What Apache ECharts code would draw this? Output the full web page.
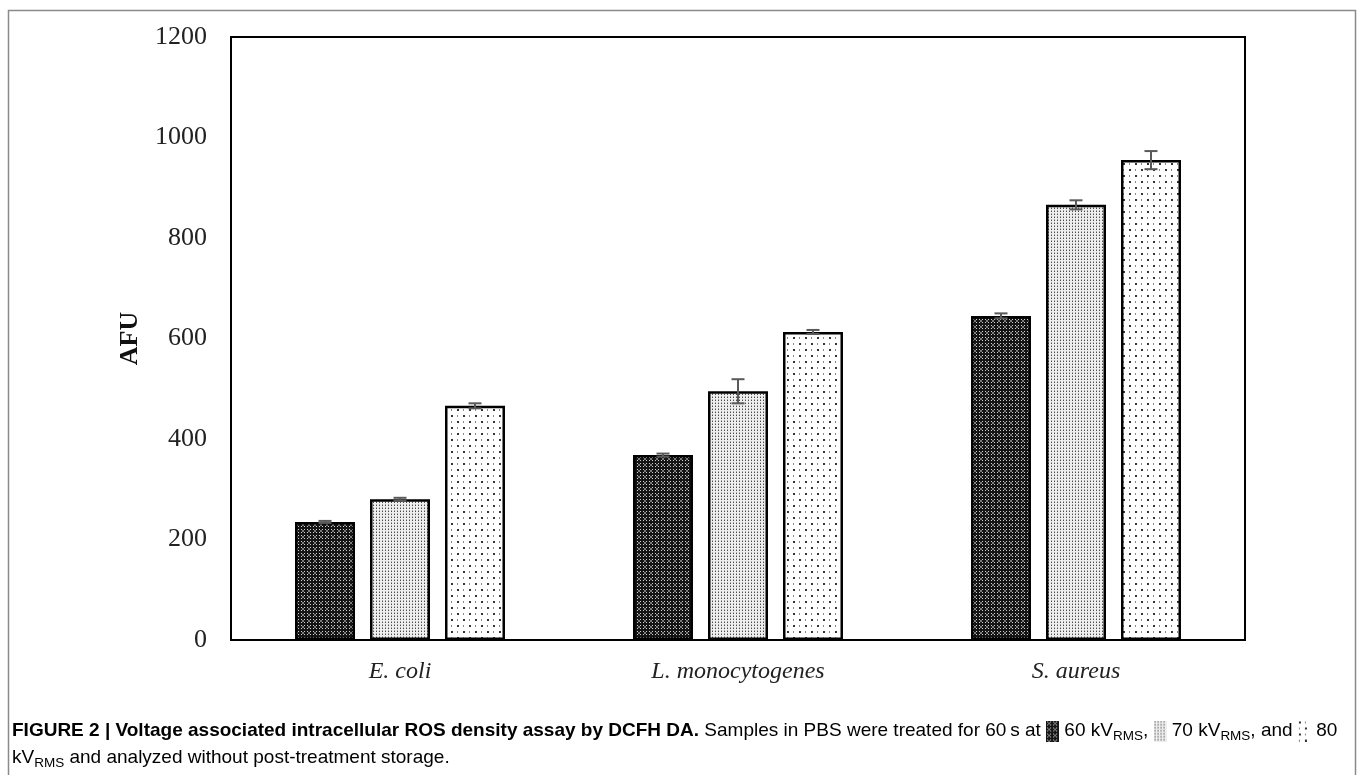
<!DOCTYPE html>
<html>
<head>
<meta charset="utf-8">
<script src="https://cdn.jsdelivr.net/npm/echarts@6/dist/echarts.min.js"></script>
<style>html,body{margin:0;padding:0;background:#fff;}#c{width:1358px;height:775px;}</style>
</head>
<body>
<div id="c"></div>
<script>
const categories = ['E. coli', 'L. monocytogenes', 'S. aureus'];
const seriesNames = ['60 kVRMS', '70 kVRMS', '80 kVRMS'];
const values60 = [235, 368, 645];
const values70 = [280, 495, 866];
const values80 = [466, 613, 955];
const err60 = [2, 3, 5];
const err70 = [3, 24, 9];
const err80 = [5, 4, 18];
const yTicks = [0, 200, 400, 600, 800, 1000, 1200];

function tile(w, h, draw) {
  const c = document.createElement('canvas');
  c.width = w; c.height = h;
  const g = c.getContext('2d');
  draw(g, w, h);
  return c;
}
function pat60(g, w, h) {
  g.fillStyle = '#151515'; g.fillRect(0, 0, w, h);
  g.fillStyle = '#d0d0d0';
  for (let y = 0; y < h; y += 6) for (let x = 0; x < w; x += 6) {
    g.fillRect(x + 1, y + 1, 1, 1); g.fillRect(x + 4, y + 1, 1, 1);
    g.fillRect(x + 1, y + 4, 1, 1); g.fillRect(x + 4, y + 4, 1, 1);
  }
  g.fillStyle = '#7a7a7a';
  for (let y = 0; y < h; y += 6) for (let x = 0; x < w; x += 6) {
    g.fillRect(x + 2, y + 2, 2, 2);
  }
}
function pat70(g, w, h) {
  g.fillStyle = '#eeeeee'; g.fillRect(0, 0, w, h);
  for (let y = 0; y < h; y += 3) for (let x = 0; x < w; x += 3) {
    g.fillStyle = '#4a4a4a'; g.fillRect(x + 1, y + 1, 1, 1);
    g.fillStyle = '#a8a8a8'; g.fillRect(x + 1, y, 1, 1);
  }
}
function pat80(g, w, h) {
  g.fillStyle = '#ffffff'; g.fillRect(0, 0, w, h);
  for (let y = 0; y < h; y += 12) for (let x = 0; x < w; x += 12) {
    g.fillStyle = '#333333'; g.fillRect(x + 1, y + 1, 2, 2); g.fillRect(x + 7, y + 7, 2, 2);
    g.fillStyle = '#8a8a8a'; g.fillRect(x + 7, y + 1, 1, 2); g.fillRect(x + 1, y + 7, 1, 2);
  }
}
const drawers = [pat60, pat70, pat80];
const tiles = [tile(6, 6, pat60), tile(3, 3, pat70), tile(12, 12, pat80)];
const swatchUrls = drawers.map(d => tile(13, 21, d).toDataURL());

const valueSets = [values60, values70, values80];
const errSets = [err60, err70, err80];
const BW = 0.1775, GAP = 0.25;

const barSeries = valueSets.map((vals, s) => ({
  name: seriesNames[s],
  type: 'bar',
  data: vals,
  barWidth: (BW * 100) + '%',
  barGap: (GAP * 100) + '%',
  itemStyle: {
    color: { image: tiles[s], repeat: 'repeat' },
    borderColor: '#000', borderWidth: 2.5
  },
  emphasis: { disabled: true },
  silent: true
}));

const errData = [];
valueSets.forEach((vals, s) => vals.forEach((v, i) => errData.push([i, v, errSets[s][i], s])));

const errSeries = {
  type: 'custom',
  data: errData,
  z: 10,
  silent: true,
  renderItem: function (params, api) {
    const ci = api.value(0), v = api.value(1), e = api.value(2), s = api.value(3);
    const catW = api.size([1, 0])[0];
    const bw = catW * BW;
    const off = (s - 1) * bw * (1 + GAP);
    const top = api.coord([ci, v + e]);
    const bot = api.coord([ci, v - e]);
    const x = top[0] + off;
    const cap = 6.5;
    const st = { stroke: '#5a5a5a', lineWidth: 2 };
    return {
      type: 'group',
      children: [
        { type: 'line', shape: { x1: x, y1: top[1], x2: x, y2: bot[1] }, style: st },
        { type: 'line', shape: { x1: x - cap, y1: top[1], x2: x + cap, y2: top[1] }, style: st },
        { type: 'line', shape: { x1: x - cap, y1: bot[1], x2: x + cap, y2: bot[1] }, style: st }
      ]
    };
  },
  encode: { x: 0, y: 1 }
};

const capFont = "'Liberation Sans', Arial, Helvetica, sans-serif";
const rich = {
  b: { fontFamily: capFont, fontWeight: 'bold', fontSize: 19, color: '#111', lineHeight: 26 },
  r: { fontFamily: capFont, fontSize: 19, color: '#333', lineHeight: 26 },
  sub: { fontFamily: capFont, fontSize: 13.5, color: '#333', padding: [10, 0, 0, 0], lineHeight: 26 },
  s1: { width: 13, height: 21, backgroundColor: { image: swatchUrls[0] } },
  s2: { width: 13, height: 21, backgroundColor: { image: swatchUrls[1] } },
  s3: { width: 13, height: 21, backgroundColor: { image: swatchUrls[2] } }
};

const serif = "'Liberation Serif', 'Times New Roman', serif";
const chart = echarts.init(document.getElementById('c'));
chart.setOption({
  backgroundColor: '#fff',
  animation: false,
  grid: { left: 231, top: 37, right: 113, bottom: 135, show: true, borderColor: '#000', borderWidth: 2, backgroundColor: 'transparent' },
  xAxis: {
    type: 'category',
    data: categories,
    axisLine: { show: true, lineStyle: { color: '#000', width: 2 } },
    axisTick: { show: false },
    axisLabel: { fontFamily: serif, fontStyle: 'italic', fontSize: 24, color: '#222', margin: 20 }
  },
  yAxis: {
    type: 'value',
    min: yTicks[0], max: yTicks[yTicks.length - 1], interval: yTicks[1] - yTicks[0],
    name: 'AFU',
    nameLocation: 'middle',
    nameRotate: 90,
    nameGap: 88,
    nameTextStyle: { fontFamily: serif, fontWeight: 'bold', fontSize: 26, color: '#111' },
    axisLine: { show: true, lineStyle: { color: '#000', width: 2 } },
    axisTick: { show: false },
    splitLine: { show: false },
    axisLabel: { fontFamily: serif, fontSize: 26, color: '#222', margin: 24, formatter: v => String(v) }
  },
  series: [...barSeries, errSeries],
  graphic: [
    { type: 'rect', shape: { x: 8.5, y: 10.5, width: 1347, height: 800 }, style: { fill: 'none', stroke: '#8a8a8a', lineWidth: 1.5 }, silent: true },
    { type: 'text', left: 12, top: 719, style: {
        text: '{b|FIGURE 2 | Voltage associated intracellular ROS density assay by DCFH DA.}{r| Samples in PBS were treated for 60\u2009s at }{s1| }{r| 60 kV}{sub|RMS}{r|, }{s2| }{r| 70 kV}{sub|RMS}{r|, and }{s3| }{r| 80}',
        rich: rich } },
    { type: 'text', left: 12, top: 746, style: {
        text: '{r|kV}{sub|RMS}{r| and analyzed without post-treatment storage.}',
        rich: rich } }
  ]
});
</script>
</body>
</html>
